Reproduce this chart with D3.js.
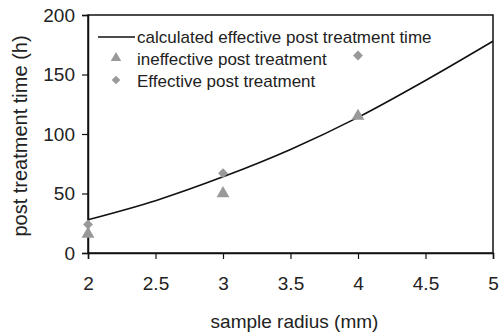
<!DOCTYPE html>
<html>
<head>
<meta charset="utf-8">
<script src="https://cdn.jsdelivr.net/npm/d3@7"></script>
<style>
  body { margin: 0; background: #fff; }
  text { font-family: "Liberation Sans", Arial, sans-serif; fill: #222; }
</style>
</head>
<body>
<div id="chart"></div>
<script>
(function () {
    'use strict';

    // calculated curve
    const calcRadius = [2, 2.5, 3, 3.5, 4, 4.5, 5];
    const calcTime = [28, 44, 64, 87, 114, 145, 178];

    // measured points
    const ineffRadius = [2, 3, 4];
    const ineffTime = [16, 50, 115];
    const effRadius = [2, 3, 4];
    const effTime = [24, 67, 166];

    const xTicks = [2, 2.5, 3, 3.5, 4, 4.5, 5];
    const yTicks = [0, 50, 100, 150, 200];
    const legendLabels = ['calculated effective post treatment time', 'ineffective post treatment', 'Effective post treatment'];

    const width = 499, height = 336;
    const margin = { top: 15, right: 6, bottom: 83, left: 88 };
    const markerColor = '#999';
    const font = '"Liberation Sans", Arial, sans-serif';

    const svg = d3.select('#chart').append('svg')
        .attr('width', width)
        .attr('height', height);

    const x = d3.scaleLinear().domain([2, 5]).range([margin.left, width - margin.right]);
    const y = d3.scaleLinear().domain([0, 200]).range([height - margin.bottom, margin.top]);

    // frame
    svg.append('rect')
        .attr('x', x(2)).attr('y', y(200))
        .attr('width', x(5) - x(2)).attr('height', y(0) - y(200))
        .attr('fill', 'none').attr('stroke', '#111').attr('stroke-width', 1.5);

    const xAxis = svg.append('g')
        .attr('transform', `translate(0,${y(0)})`)
        .call(d3.axisBottom(x).tickValues(xTicks).tickSize(6).tickPadding(18).tickFormat(d3.format('')));
    const yAxis = svg.append('g')
        .attr('transform', `translate(${x(2)},0)`)
        .call(d3.axisLeft(y).tickValues(yTicks).tickSize(6).tickPadding(7));

    [xAxis, yAxis].forEach(a => {
        a.select('.domain').attr('stroke', '#111').attr('stroke-width', 1.5);
        a.selectAll('.tick line').attr('stroke', '#111').attr('stroke-width', 1.2);
        a.selectAll('text').attr('font-size', 19).attr('font-family', font).attr('fill', '#222');
    });

    svg.append('text')
        .attr('x', (x(2) + x(5)) / 2 + 4).attr('y', 328)
        .attr('text-anchor', 'middle').attr('font-size', 19)
        .text('sample radius (mm)');
    svg.append('text')
        .attr('transform', `translate(27,${(y(0) + y(200)) / 2 + 2}) rotate(-90)`)
        .attr('text-anchor', 'middle').attr('font-size', 20)
        .text('post treatment time (h)');

    const calc = calcRadius.map((r, i) => [r, calcTime[i]]);
    svg.append('path')
        .datum(calc)
        .attr('fill', 'none').attr('stroke', '#111').attr('stroke-width', 1.6)
        .attr('d', d3.line().x(d => x(d[0])).y(d => y(d[1])).curve(d3.curveMonotoneX));

    const tri = d3.symbol().type(d3.symbolTriangle).size(72);
    const dia = d3.symbol().type(d3.symbolDiamond2).size(62);

    svg.append('g').selectAll('path')
        .data(ineffRadius.map((r, i) => [r, ineffTime[i]]))
        .join('path')
        .attr('d', tri)
        .attr('fill', markerColor)
        .attr('transform', d => `translate(${x(d[0])},${y(d[1])})`);

    svg.append('g').selectAll('path')
        .data(effRadius.map((r, i) => [r, effTime[i]]))
        .join('path')
        .attr('d', dia)
        .attr('fill', markerColor)
        .attr('transform', d => `translate(${x(d[0])},${y(d[1])})`);

    // legend
    const lgTri = d3.symbol().type(d3.symbolTriangle).size(48);
    const lgDia = d3.symbol().type(d3.symbolDiamond2).size(48);
    const lg = svg.append('g').attr('transform', 'translate(98,37)');
    lg.append('line').attr('x1', 0).attr('x2', 37).attr('y1', 0).attr('y2', 0)
        .attr('stroke', '#111').attr('stroke-width', 1.6);
    lg.append('path').attr('d', lgTri).attr('fill', markerColor).attr('transform', 'translate(18,21)');
    lg.append('path').attr('d', lgDia).attr('fill', markerColor).attr('transform', 'translate(18,43)');
    lg.selectAll('text')
        .data(legendLabels)
        .join('text')
        .attr('x', 39).attr('y', (d, i) => i * 22)
        .attr('dy', '0.35em').attr('font-size', 17)
        .text(d => d);
})();
</script>
</body>
</html>
